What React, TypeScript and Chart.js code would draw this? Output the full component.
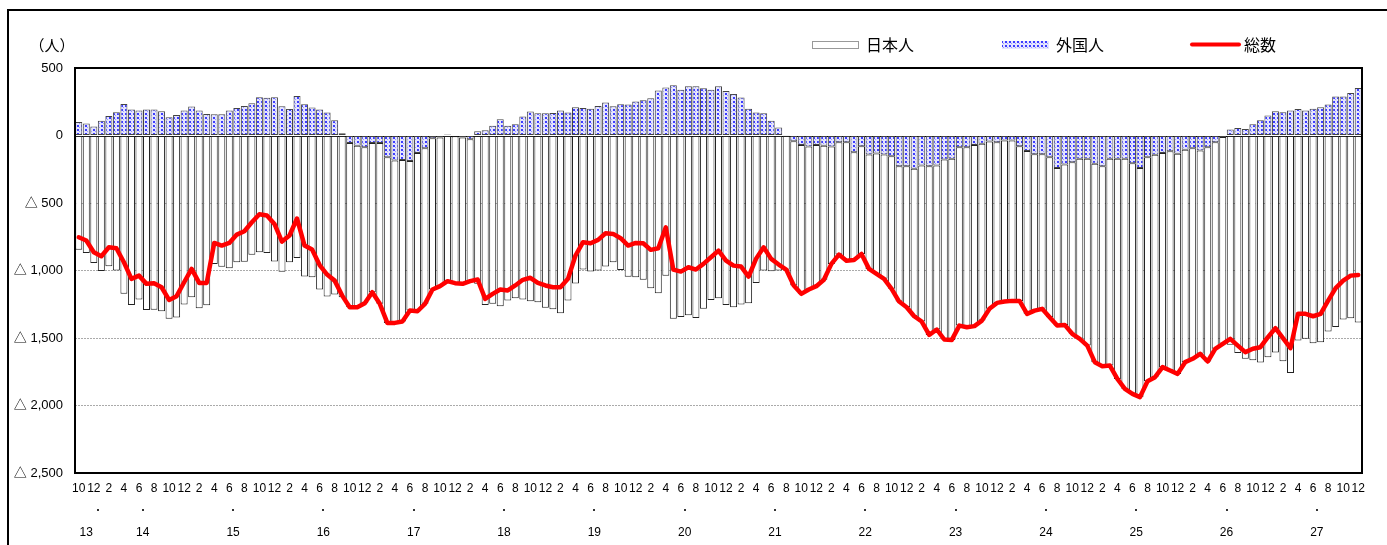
import React, { useEffect, useRef } from "react";
import { Chart, registerables } from "chart.js";

Chart.register(...registerables);

// ---- data (persons), monthly from Oct of year 13 to Dec of year 27 ----
const monthLabels: string[] = (() => {
  const out: string[] = [];
  let m = 10;
  for (let i = 0; i < 171; i++) {
    out.push(String(m));
    m = m === 12 ? 1 : m + 1;
  }
  return out;
})();

const yearLabels = ["13", "14", "15", "16", "17", "18", "19", "20", "21", "22", "23", "24", "25", "26", "27"];

const japanese = [
  -847, -870, -944, -1003, -968, -1000, -1173, -1255, -1215, -1292,
  -1290, -1302, -1358, -1349, -1252, -1198, -1280, -1257, -951, -973,
  -983, -938, -936, -884, -865, -870, -934, -1010, -938, -907,
  -1045, -1050, -1141, -1193, -1178, -1198, -1217, -1197, -1155, -1106,
  -1192, -1227, -1202, -1197, -1109, -1173, -1153, -1121, -1101, -1086,
  -1089, -1084, -1052, -1099, -1255, -1247, -1265, -1223, -1205, -1215,
  -1228, -1235, -1275, -1287, -1316, -1223, -1097, -993, -1008, -1000,
  -971, -939, -996, -1047, -1050, -1069, -1131, -1168, -1038, -1358,
  -1344, -1331, -1351, -1284, -1218, -1205, -1255, -1272, -1252, -1242,
  -1092, -1000, -1005, -1000, -995, -1069, -1103, -1059, -1046, -994,
  -869, -832, -877, -798, -798, -847, -891, -921, -983, -1003,
  -1045, -1092, -1156, -1250, -1215, -1333, -1341, -1321, -1333, -1342,
  -1309, -1239, -1190, -1193, -1188, -1146, -1207, -1159, -1146, -1185,
  -1168, -1188, -1271, -1333, -1383, -1469, -1482, -1531, -1630, -1704,
  -1709, -1698, -1659, -1647, -1587, -1625, -1630, -1573, -1560, -1506,
  -1587, -1530, -1531, -1550, -1612, -1654, -1664, -1681, -1642, -1607,
  -1673, -1760, -1518, -1506, -1538, -1531, -1452, -1419, -1363, -1353,
  -1385,
];

const foreign = [
  100, 88, 66, 110, 145, 172, 234, 192, 185, 192,
  192, 180, 135, 152, 185, 214, 185, 160, 158, 158,
  185, 204, 219, 239, 283, 280, 283, 217, 197, 292,
  232, 207, 192, 170, 113, 17, -55, -75, -87, -55,
  -55, -161, -186, -181, -188, -129, -94, -20, -15, 7,
  -5, -15, -27, 32, 39, 73, 121, 73, 84, 140,
  177, 165, 165, 167, 185, 170, 210, 204, 199, 219,
  244, 217, 232, 229, 251, 261, 276, 333, 355, 373,
  338, 365, 365, 350, 338, 365, 330, 308, 281, 199,
  170, 165, 110, 59, 2, -42, -70, -82, -70, -75,
  -82, -50, -50, -124, -79, -141, -134, -141, -153, -227,
  -227, -247, -222, -227, -222, -178, -173, -87, -87, -70,
  -62, -45, -50, -37, -37, -79, -114, -138, -138, -161,
  -240, -215, -198, -173, -173, -210, -227, -173, -173, -173,
  -205, -240, -161, -143, -129, -116, -136, -106, -94, -111,
  -87, -50, -12, 44, 56, 49, 84, 113, 148, 180,
  172, 185, 197, 185, 199, 210, 229, 288, 288, 315,
  352,
];

const total = [
  -754, -778, -865, -894, -828, -835, -939, -1062, -1038, -1099,
  -1095, -1124, -1218, -1190, -1087, -988, -1092, -1092, -796, -815,
  -796, -734, -709, -643, -583, -593, -655, -786, -741, -615,
  -815, -845, -960, -1030, -1075, -1186, -1272, -1272, -1242, -1161,
  -1247, -1388, -1388, -1378, -1297, -1302, -1247, -1141, -1116, -1079,
  -1094, -1099, -1079, -1067, -1210, -1173, -1141, -1148, -1111, -1069,
  -1054, -1092, -1111, -1124, -1124, -1062, -889, -790, -798, -773,
  -724, -729, -761, -815, -796, -798, -847, -835, -680, -993,
  -1008, -976, -993, -951, -902, -853, -927, -964, -971, -1045,
  -912, -828, -914, -956, -993, -1111, -1173, -1141, -1116, -1069,
  -951, -882, -927, -922, -877, -988, -1025, -1062, -1136, -1230,
  -1272, -1339, -1378, -1477, -1437, -1511, -1514, -1408, -1420, -1412,
  -1371, -1284, -1240, -1230, -1225, -1225, -1321, -1297, -1284, -1346,
  -1408, -1403, -1469, -1506, -1556, -1679, -1709, -1704, -1803, -1877,
  -1914, -1938, -1820, -1790, -1716, -1741, -1766, -1679, -1654, -1617,
  -1674, -1580, -1543, -1506, -1556, -1605, -1580, -1568, -1494, -1427,
  -1501, -1575, -1321, -1321, -1339, -1321, -1223, -1131, -1075, -1038,
  -1033,
];

const yTickMin = -2500;
const yTickMax = 500;
const yTickStep = 500;

const W = 1387;
const H = 545;

function makePattern(): CanvasPattern | string {
  const c = document.createElement("canvas");
  c.width = 4;
  c.height = 4;
  const g = c.getContext("2d");
  if (!g) return "#b0b0ff";
  g.fillStyle = "#e4e4ff";
  g.fillRect(0, 0, 4, 4);
  g.fillStyle = "#3c3cff";
  g.fillRect(1, 1, 2, 2);
  g.fillStyle = "#9a9aff";
  g.fillRect(3, 3, 1, 1);
  const p = g.createPattern(c, "repeat");
  return p || "#b0b0ff";
}

function fmtY(v: number): string {
  if (v >= 0) return String(v);
  const a = Math.abs(v).toLocaleString("en-US");
  return "△ " + a;
}

export default function App() {
  const ref = useRef<HTMLCanvasElement | null>(null);

  useEffect(() => {
    const canvas = ref.current;
    if (!canvas) return;
    const pattern = makePattern();

    const pxAt = (xs: any, v: number) => {
      const i = Math.floor(v);
      const f = v - i;
      const p0 = xs.getPixelForValue(i);
      const p1 = xs.getPixelForValue(i + 1);
      return p0 + f * (p1 - p0);
    };

    const decor = {
      id: "decor",
      beforeDatasetsDraw(chart: any) {
        const { ctx, chartArea: a, scales } = chart;
        const y0 = scales.y.getPixelForValue(0);
        ctx.save();
        ctx.strokeStyle = "#000";
        ctx.lineWidth = 1;
        ctx.beginPath();
        ctx.moveTo(a.left, Math.round(y0) + 0.5);
        ctx.lineTo(a.right, Math.round(y0) + 0.5);
        ctx.stroke();
        ctx.restore();
      },
      afterDraw(chart: any) {
        const { ctx, chartArea: a, scales } = chart;
        const xs = scales.x;
        ctx.save();
        // plot border
        ctx.strokeStyle = "#000";
        ctx.lineWidth = 2;
        ctx.strokeRect(a.left, a.top, a.right - a.left, a.bottom - a.top);
        // outer frame (left and top)
        ctx.fillStyle = "#000";
        ctx.fillRect(7, 9, 2, H - 9);
        ctx.fillRect(7, 9, W - 7, 2);

        // y unit
        ctx.fillStyle = "#000";
        ctx.font = "15px 'Noto Sans CJK JP', sans-serif";
        ctx.textAlign = "center";
        ctx.textBaseline = "middle";
        ctx.fillText("（人）", 52, 45);

        // year labels and dots
        ctx.font = "12px 'Liberation Sans Narrow', 'Liberation Sans', sans-serif";
        yearLabels.forEach((yl) => {
          const yr = parseInt(yl, 10);
          const pos = yr === 13 ? 1 : 3 + (yr - 14) * 12 + 5.5;
          const dotPos = yr === 13 ? 2.5 : pos;
          const px = pxAt(xs, pos);
          const dx = pxAt(xs, dotPos);
          ctx.fillStyle = "#000";
          ctx.fillText(yl, px, 533);
          ctx.fillStyle = "#333";
          ctx.fillRect(Math.round(dx) - 1, 509, 2, 2);
        });

        // legend
        const ly = 44.5;
        ctx.textAlign = "left";
        ctx.font = "16px 'Noto Sans CJK JP', sans-serif";
        // 日本人
        ctx.fillStyle = "#fff";
        ctx.fillRect(812, 41, 46, 8);
        ctx.strokeStyle = "#999";
        ctx.lineWidth = 1;
        ctx.strokeRect(812.5, 41.5, 46, 7);
        ctx.fillStyle = "#000";
        ctx.fillText("日本人", 866, ly);
        // 外国人
        ctx.fillStyle = pattern as any;
        ctx.fillRect(1002, 41, 47, 8);
        ctx.fillStyle = "#000";
        ctx.fillText("外国人", 1056, ly);
        // 総数
        ctx.strokeStyle = "#ff0000";
        ctx.lineWidth = 4;
        ctx.lineCap = "round";
        ctx.beginPath();
        ctx.moveTo(1192, ly);
        ctx.lineTo(1239, ly);
        ctx.stroke();
        ctx.fillStyle = "#000";
        ctx.fillText("総数", 1244, ly);
        ctx.restore();
      },
    };

    const chart = new Chart(canvas, {
      type: "bar",
      data: {
        labels: monthLabels,
        datasets: [
          {
            type: "line",
            label: "総数",
            data: total,
            borderColor: "#ff0000",
            backgroundColor: "#ff0000",
            borderWidth: 4.5,
            pointRadius: 0,
            tension: 0,
            borderJoinStyle: "round",
            borderCapStyle: "round",
            stack: "total",
            order: 0,
          } as any,
          {
            type: "bar",
            label: "外国人",
            data: foreign,
            backgroundColor: pattern as any,
            borderColor: "#444",
            borderWidth: 1,
            borderSkipped: false,
            stack: "pop",
            order: 1,
            categoryPercentage: 1,
            barPercentage: 0.93,
          } as any,
          {
            type: "bar",
            label: "日本人",
            data: japanese,
            backgroundColor: "#ffffff",
            borderColor: "#222",
            borderWidth: 1,
            borderSkipped: false,
            stack: "pop",
            order: 2,
            categoryPercentage: 1,
            barPercentage: 0.93,
          } as any,
        ],
      },
      options: {
        animation: false,
        responsive: false,
        devicePixelRatio: 1,
        layout: { padding: { left: 0, right: 25, top: 68, bottom: 0 } },
        plugins: {
          legend: { display: false },
          tooltip: { enabled: false },
        },
        scales: {
          x: {
            stacked: true,
            grid: { display: false, drawTicks: false },
            border: { display: false },
            ticks: {
              autoSkip: false,
              maxRotation: 0,
              minRotation: 0,
              padding: 8,
              color: "#000",
              font: { family: "'Liberation Sans Narrow', 'Liberation Sans', sans-serif", size: 12 },
              callback: (_v: any, idx: number) => (idx % 2 === 0 ? monthLabels[idx] : ""),
            },
            afterFit: (s: any) => {
              s.height = 72;
            },
          },
          y: {
            stacked: true,
            min: yTickMin,
            max: yTickMax,
            grid: {
              drawTicks: false,
              color: (c: any) =>
                c.tick && (c.tick.value === 0 || c.tick.value === yTickMax) ? "rgba(0,0,0,0)" : "#aaaaaa",
              lineWidth: 1,
            },
            border: { display: false, dash: [2, 1] },
            ticks: {
              stepSize: yTickStep,
              padding: 12,
              color: "#000",
              font: { family: "'Liberation Sans', 'Noto Sans CJK JP', sans-serif", size: 13 },
              callback: (v: any) => fmtY(Number(v)),
            },
            afterFit: (s: any) => {
              s.width = 75;
            },
          },
        },
      },
      plugins: [decor],
    });

    return () => {
      chart.destroy();
    };
  }, []);

  return (
    <div style={{ position: "fixed", left: 0, top: 0, width: W, height: H, background: "#fff" }}>
      <canvas ref={ref} width={W} height={H} style={{ display: "block", width: W, height: H }} />
    </div>
  );
}
